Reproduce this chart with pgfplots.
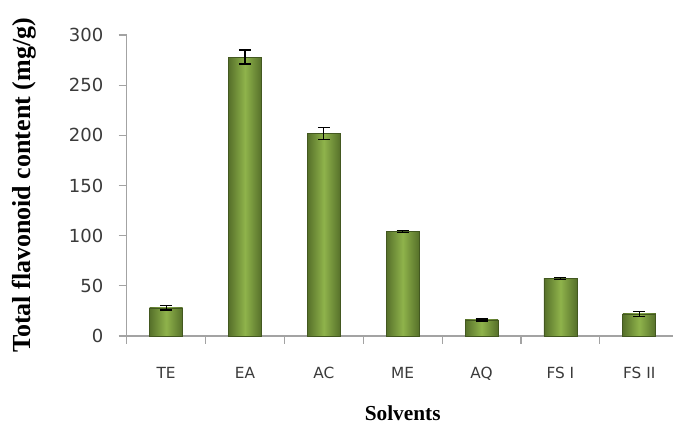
\documentclass[border=0pt]{standalone}
\usepackage{fontspec}
\setmainfont{Liberation Serif}
\newfontfamily\tickfont{DejaVu Sans}
\usepackage{pgfplots}
\pgfplotsset{compat=1.18}

\definecolor{barmid}{HTML}{8FB34B}
\definecolor{baredge}{HTML}{56702A}
\definecolor{barline}{HTML}{435820}
\definecolor{axisgray}{HTML}{A3A3A3}
\definecolor{ticktext}{HTML}{3A3A3A}

\pgfplotsset{
  flavbar/.style={ybar, bar width=24.75pt, draw=barline, line width=0.5pt,
    left color=baredge, right color=baredge, middle color=barmid,
    error bars/.cd, y dir=both, y explicit,
    error bar style={black, line width=0.9pt},
    error mark options={rotate=90, mark size=4.5pt, line width=0.9pt, black}},
}

\begin{document}
\begin{tikzpicture}
\begin{axis}[
  at={(0pt,0pt)}, anchor=south west,
  scale only axis,
  width=414pt, height=225.75pt,
  xmin=0.5, xmax=7.5, ymin=0, ymax=300,
  axis x line*=bottom, axis y line*=left,
  axis line style={axisgray, line width=0.9pt},
  xtick={1,...,7},
  xticklabels={TE,EA,AC,ME,AQ,FS I,FS II},
  minor xtick={0.5,1.5,...,7.5},
  major x tick style={draw=none},
  minor x tick style={axisgray, line width=0.9pt},
  ytick={0,50,...,300},
  y tick style={axisgray, line width=0.9pt},
  tick align=outside,
  major tick length=6pt, minor tick length=6pt,
  /pgf/number format/assume math mode=true,
  tick label style={text=ticktext},
  xticklabel style={font=\tickfont\fontsize{11.5}{13}\selectfont, yshift=-14pt},
  yticklabel style={font=\tickfont\fontsize{13.5}{15}\selectfont, xshift=-8pt},
  xlabel={Solvents},
  ylabel={Total flavonoid content (mg/g)},
  xlabel style={at={(axis description cs:0.5,-0.256)}, anchor=center,
                font=\bfseries\fontsize{16}{18}\selectfont},
  ylabel style={at={(axis description cs:-0.186,0.5)}, anchor=center,
                font=\bfseries\fontsize{19.5}{22}\selectfont},
  clip=false,
]
% one plot per solvent so that each bar carries its own shading
\addplot[flavbar] coordinates {(1,28)  +- (0,2)};
\addplot[flavbar] coordinates {(2,278) +- (0,7)};
\addplot[flavbar] coordinates {(3,202) +- (0,6)};
\addplot[flavbar] coordinates {(4,104) +- (0,1)};
\addplot[flavbar] coordinates {(5,16)  +- (0,1)};
\addplot[flavbar] coordinates {(6,57)  +- (0,1)};
\addplot[flavbar] coordinates {(7,22)  +- (0,2.5)};
\end{axis}
\pgfresetboundingbox
\path (-95.03pt,-65.25pt) rectangle (409.73pt,252pt);
\end{tikzpicture}
\end{document}
